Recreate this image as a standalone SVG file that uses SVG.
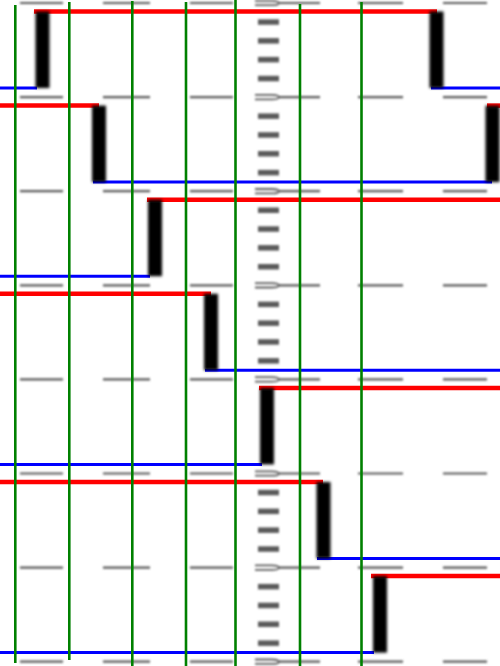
<svg xmlns="http://www.w3.org/2000/svg" width="500" height="666" viewBox="0 0 500 666">
<defs>
<filter id="soft" x="-30%" y="-20%" width="160%" height="140%"><feGaussianBlur stdDeviation="1.4"/></filter>
<filter id="soft2" x="-20%" y="-50%" width="140%" height="200%"><feGaussianBlur stdDeviation="0.9"/></filter>
<style>
.g{stroke:#5a5a5a;stroke-width:2.2;fill:none}
.vd{fill:#5a5a5a}
.hk{stroke:#5a5a5a;stroke-width:1.8;fill:none}
.r{stroke:#ff0000;stroke-width:4.5;fill:none}
.b{stroke:#0000ff;stroke-width:3;fill:none}
.bar{fill:#000}
.gr{stroke:#008000;stroke-width:2.6}
</style>
<g id="dashline">
<path class="g" d="M20,0H63M103,0H150M190,0H233M279,0H320M358,0H403M443,0H487"/>
<path class="hk" d="M255,-2.2H272Q278.5,-2.2 279,0Q278.5,2.2 272,2.2H255"/>
</g>
<g id="vdash">
<rect class="vd" x="258" y="16.3" width="21" height="5.5"/>
<rect class="vd" x="258" y="35.1" width="21" height="5.5"/>
<rect class="vd" x="258" y="53.9" width="21" height="5.5"/>
<rect class="vd" x="258" y="72.8" width="21" height="5.5"/>
</g>
</defs>
<rect width="500" height="666" fill="#fff"/>
<g id="grid" filter="url(#soft2)">
<use href="#dashline" transform="translate(0,3)"/>
<use href="#dashline" transform="translate(0,97.1)"/>
<use href="#dashline" transform="translate(0,191.2)"/>
<use href="#dashline" transform="translate(0,285.3)"/>
<use href="#dashline" transform="translate(0,379.4)"/>
<use href="#dashline" transform="translate(0,473.5)"/>
<use href="#dashline" transform="translate(0,567.6)"/>
<use href="#dashline" transform="translate(0,661.7)"/>
<use href="#vdash" transform="translate(0,3)"/>
<use href="#vdash" transform="translate(0,97.1)"/>
<use href="#vdash" transform="translate(0,191.2)"/>
<use href="#vdash" transform="translate(0,285.3)"/>
<use href="#vdash" transform="translate(0,473.5)"/>
<use href="#vdash" transform="translate(0,567.6)"/>
</g>
<g id="signals">
<g id="row1">
<path class="b" d="M0,88H37"/>
<path class="r" d="M34,11.5H437"/>
<path class="b" d="M431,88H500"/>
<rect class="bar" x="35.5" y="11.5" width="14" height="76.5" filter="url(#soft)"/>
<rect class="bar" x="429.5" y="11.5" width="14" height="76.5" filter="url(#soft)"/>
</g>
<g id="row2">
<path class="r" d="M0,105.6H99"/>
<path class="b" d="M93,182.1H492"/>
<path class="r" d="M487,105.6H500"/>
<rect class="bar" x="92" y="105.6" width="14" height="76.5" filter="url(#soft)"/>
<rect class="bar" x="485.5" y="105.6" width="14" height="76.5" filter="url(#soft)"/>
</g>
<g id="row3">
<path class="b" d="M0,276.2H150"/>
<path class="r" d="M147,199.7H500"/>
<rect class="bar" x="148" y="199.7" width="14" height="76.5" filter="url(#soft)"/>
</g>
<g id="row4">
<path class="r" d="M0,293.8H211"/>
<path class="b" d="M205,370.3H500"/>
<rect class="bar" x="204" y="293.8" width="14" height="76.5" filter="url(#soft)"/>
</g>
<g id="row5">
<path class="b" d="M0,464.4H262"/>
<path class="r" d="M259,387.9H500"/>
<rect class="bar" x="260" y="387.9" width="14" height="76.5" filter="url(#soft)"/>
</g>
<g id="row6">
<path class="r" d="M0,482H323"/>
<path class="b" d="M317,558.5H500"/>
<rect class="bar" x="316.5" y="482" width="14" height="76.5" filter="url(#soft)"/>
</g>
<g id="row7">
<path class="b" d="M0,652.6H374"/>
<path class="r" d="M371,576.1H500"/>
<rect class="bar" x="373" y="576.1" width="14" height="76.5" filter="url(#soft)"/>
</g>
</g>
<g id="markers">
<line class="gr" x1="15.3" y1="5" x2="15.3" y2="663"/>
<line class="gr" x1="69.3" y1="2" x2="69.3" y2="660"/>
<line class="gr" x1="132.3" y1="1" x2="132.3" y2="666"/>
<line class="gr" x1="186" y1="2" x2="186" y2="666"/>
<line class="gr" x1="235.5" y1="0" x2="235.5" y2="666"/>
<line class="gr" x1="300" y1="4" x2="300" y2="666"/>
<line class="gr" x1="361.5" y1="2" x2="361.5" y2="666"/>
</g>
</svg>
